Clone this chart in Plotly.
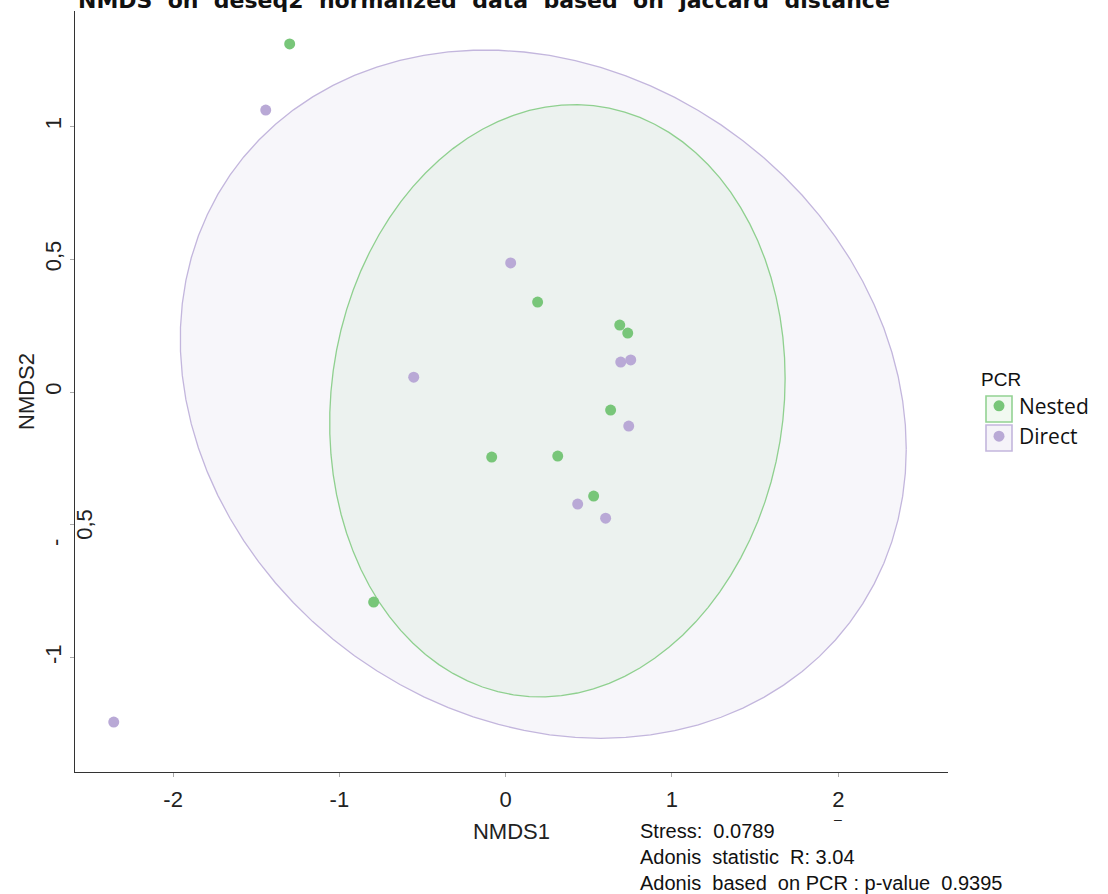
import numpy as np
import plotly.graph_objects as go

# ---- data ----
nested_x = [-1.299, 0.192, 0.686, 0.734, 0.631, -0.084, 0.313, 0.529, -0.794]
nested_y = [1.311, 0.339, 0.252, 0.222, -0.068, -0.245, -0.241, -0.392, -0.791]
direct_x = [-1.443, 0.030, -0.553, 0.692, 0.752, 0.740, 0.433, 0.601, -2.357]
direct_y = [1.062, 0.486, 0.056, 0.113, 0.121, -0.128, -0.422, -0.475, -1.243]

# ellipse: center and shape matrix (Sxx, Syy, Sxy)
nested_ell = dict(cx=0.311, cy=-0.033, sxx=1.3695**2, syy=1.1154**2, sxy=0.115)
direct_ell = dict(cx=0.226, cy=-0.008, sxx=2.183**2, syy=1.296**2, sxy=-0.452)

x_ticks = [-2, -1, 0, 1, 2]
x_ticktext = ["-2", "-1", "0", "1", "2"]
y_ticks = [-1, -0.5, 0, 0.5, 1]
y_ticktext = ["-1", "", "0", "0,5", "1"]

stats_lines = ["Stress:  0.0789", "Adonis  statistic  R: 3.04", "Adonis  based  on PCR : p-value  0.9395"]
title_text = "NMDS  on  deseq2  normalized  data  based  on  jaccard  distance"

GREEN = "#78c679"
PURPLE = "#b9a9d6"

# layout geometry (pixels)
W, H = 1108, 894
ML, MR, MT, MB = 75, 160, 11, 122
PW, PH = W - ML - MR, H - MT - MB


def px_to_paper_x(p):
    return (p - ML) / PW


def px_to_paper_y(p):
    return (H - MB - p) / PH


def ellipse(e, n=90):
    S = np.array([[e["sxx"], e["sxy"]], [e["sxy"], e["syy"]]])
    L = np.linalg.cholesky(S)
    t = np.linspace(0, 2 * np.pi, n)
    u = np.vstack([np.cos(t), np.sin(t)])
    p = L @ u
    return e["cx"] + p[0], e["cy"] + p[1]


fig = go.Figure()

ex, ey = ellipse(direct_ell)
fig.add_trace(go.Scatter(x=ex, y=ey, mode="lines", fill="toself",
                         fillcolor="rgba(185,169,214,0.11)",
                         line=dict(color="#c3b6dd", width=1.3),
                         showlegend=False, hoverinfo="skip"))
ex, ey = ellipse(nested_ell)
fig.add_trace(go.Scatter(x=ex, y=ey, mode="lines", fill="toself",
                         fillcolor="rgba(120,198,121,0.08)",
                         line=dict(color="#8fd08f", width=1.3),
                         showlegend=False, hoverinfo="skip"))

fig.add_trace(go.Scatter(x=nested_x, y=nested_y, mode="markers", name="Nested",
                         marker=dict(color=GREEN, size=11)))
fig.add_trace(go.Scatter(x=direct_x, y=direct_y, mode="markers", name="Direct",
                         marker=dict(color=PURPLE, size=11)))

axis_font = dict(family="Liberation Sans, Arial, sans-serif", size=22, color="#222")

fig.update_layout(
    width=W, height=H,
    margin=dict(l=ML, r=MR, t=MT, b=MB, autoexpand=False),
    paper_bgcolor="white", plot_bgcolor="white",
    xaxis=dict(range=[-2.59, 2.66], tickvals=x_ticks, ticktext=x_ticktext,
               showgrid=False, zeroline=False, showline=True, linecolor="#333",
               linewidth=1, ticks="outside", ticklen=4, tickcolor="#aaa",
               ticklabelstandoff=4, automargin=False,
               tickfont=axis_font, title=dict(text="NMDS1", font=axis_font, standoff=12)),
    yaxis=dict(range=[-1.431, 1.435], tickvals=y_ticks, ticktext=y_ticktext,
               showgrid=False, zeroline=False, showline=True, linecolor="#333",
               linewidth=1, ticks="outside", ticklen=4, tickcolor="#aaa",
               tickangle=-90, tickfont=axis_font, automargin=False,
               title=dict(text="NMDS2", font=axis_font, standoff=0)),
    legend=dict(title=dict(text="PCR", font=dict(family="Liberation Sans, Arial", size=19, color="#111")),
                font=dict(family="Open Sans, sans-serif", size=21, color="#111"),
                x=px_to_paper_x(979), xanchor="left", y=px_to_paper_y(361), yanchor="top",
                bgcolor="rgba(0,0,0,0)", tracegroupgap=0, itemwidth=30),
    showlegend=True,
)

# legend key boxes (as in the reference ggplot keys)
for (col_line, col_fill), yc in zip([("#93d293", "rgba(120,198,121,0.10)"),
                                     ("#c3b6dd", "rgba(185,169,214,0.14)")], [409, 438]):
    fig.add_shape(type="rect", xref="paper", yref="paper",
                  x0=px_to_paper_x(986), x1=px_to_paper_x(1012),
                  y0=px_to_paper_y(yc - 13), y1=px_to_paper_y(yc + 13),
                  line=dict(color=col_line, width=1.6), fillcolor=col_fill, layer="below")

# odd split "-0,5" y tick label as in the reference
fig.add_annotation(text="0,5", xref="paper", yref="y", x=px_to_paper_x(85), y=-0.5,
                   xanchor="center", yanchor="middle",
                   textangle=-90, showarrow=False, font=axis_font)
fig.add_annotation(text="-", xref="paper", yref="y", x=px_to_paper_x(55), y=-0.569,
                   xanchor="center", yanchor="middle",
                   textangle=-90, showarrow=False, font=axis_font)
# small dash under the "2" x tick label
fig.add_annotation(text="\u2013", xref="x", yref="paper", x=2, y=px_to_paper_y(819),
                   xanchor="center", yanchor="middle",
                   showarrow=False, font=dict(family="Liberation Sans, Arial", size=14, color="#222"))

fig.add_annotation(text="<br>".join(stats_lines), xref="paper", yref="paper",
                   x=px_to_paper_x(638), y=px_to_paper_y(818), xanchor="left", yanchor="top",
                   align="left", showarrow=False,
                   font=dict(family="Liberation Sans, Arial", size=20, color="#111"))

fig.add_annotation(text="<b>" + title_text + "</b>", xref="paper", yref="paper",
                   x=px_to_paper_x(76), y=px_to_paper_y(15), xanchor="left", yanchor="bottom",
                   align="left", showarrow=False,
                   font=dict(family="DejaVu Sans, sans-serif", size=22, color="#111"))

fig.write_html("out.html", config={"displayModeBar": False},
               post_script="document.body.style.margin='0px';")
